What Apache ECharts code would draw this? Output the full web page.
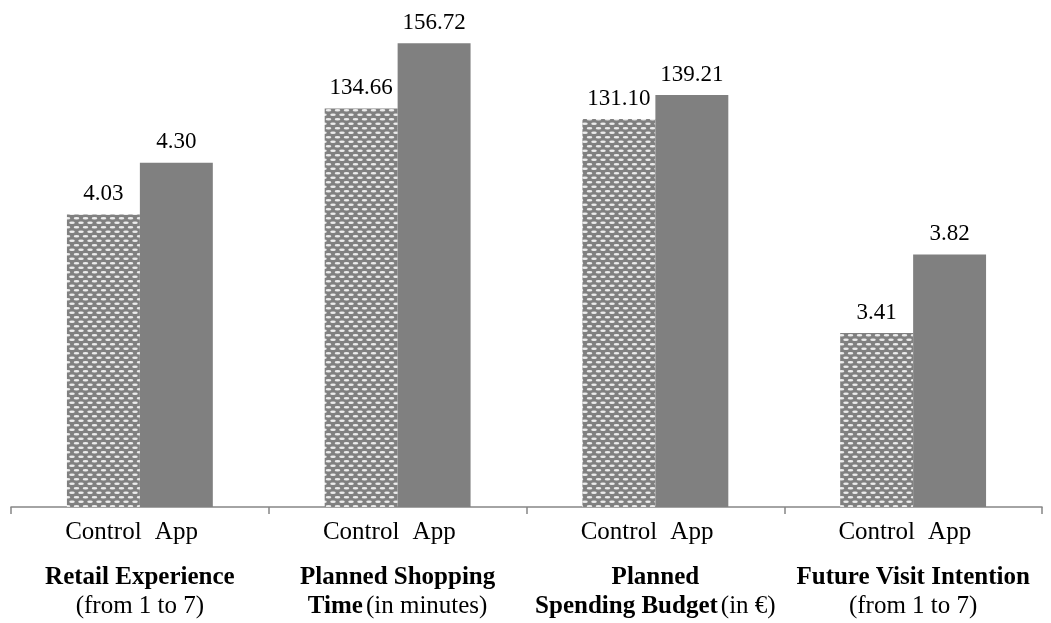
<!DOCTYPE html>
<html>
<head>
<meta charset="utf-8">
<script src="https://cdn.jsdelivr.net/npm/echarts@6/dist/echarts.min.js"></script>
<style>
  html, body { margin: 0; padding: 0; background: #fff; }
  #main { width: 1051px; height: 623px; }
</style>
</head>
<body>
<div id="main"></div>
<script>
// data
var categories = ['Retail Experience', 'Planned Shopping Time', 'Planned Spending Budget', 'Future Visit Intention'];
var controlValues = [4.03, 134.66, 131.10, 3.41];
var appValues = [4.30, 156.72, 139.21, 3.82];
// 1-7 scale items sit on the second (hidden) value axis
var onScaleAxis = [true, false, false, true];

// two-line captions under each group: bold part + plain part per line
var captionLines = {
  'Retail Experience': ['{t|Retail Experience}', '{s|(from 1 to 7)}'],
  'Planned Shopping Time': ['{t|Planned Shopping}', '{t|Time} {s|(in minutes)}'],
  'Planned Spending Budget': ['{t|Planned}', '{t|Spending Budget} {s|(in €)}'],
  'Future Visit Intention': ['{t|Future Visit Intention}', '{s|(from 1 to 7)}']
};

// dotted fill for the Control bars
var tile = document.createElement('canvas');
tile.width = 9;
tile.height = 9;
var tc = tile.getContext('2d');
tc.fillStyle = '#808080';
tc.fillRect(0, 0, 9, 9);
tc.fillStyle = '#ececec';
function oval(x, y) {
  tc.beginPath();
  tc.ellipse(x, y, 2.8, 1.3, 0, 0, Math.PI * 2);
  tc.fill();
}
oval(4.5, 2.2);
oval(0, 6.7);
oval(9, 6.7);
var controlFill = { image: tile, repeat: 'repeat' };

function pick(values, scale) {
  return values.map(function (v, i) { return onScaleAxis[i] === scale ? v : '-'; });
}

var font = '"Liberation Serif", "Times New Roman", serif';
var valueLabel = {
  show: true,
  position: 'top',
  distance: 9,
  color: '#000',
  fontFamily: font,
  fontSize: 23,
  formatter: function (p) { return p.value.toFixed(2); }
};

var myChart = echarts.init(document.getElementById('main'));
myChart.setOption({
  animation: false,
  grid: { left: 11, right: 9, top: 29, bottom: 116, containLabel: false, outerBoundsMode: 'none' },
  xAxis: [
    {
      type: 'category',
      data: categories,
      position: 'bottom',
      axisLine: { lineStyle: { color: '#868686', width: 1.5 } },
      axisTick: { show: true, length: 7, lineStyle: { color: '#868686', width: 1.5 } },
      axisLabel: {
        interval: 0,
        margin: 8,
        fontFamily: font,
        color: '#000',
        formatter: function (name) {
          var lines = captionLines[name];
          return '{c|Control}{a|App}\n{g| }\n' + lines[0] + '\n' + lines[1];
        },
        rich: {
          c: { width: 73, align: 'center', fontSize: 25, lineHeight: 34, fontFamily: font, color: '#000' },
          a: { width: 73, align: 'center', fontSize: 25, lineHeight: 34, fontFamily: font, color: '#000' },
          g: { fontSize: 10, lineHeight: 14 },
          t: { fontSize: 25, lineHeight: 29, fontWeight: 'bold', fontFamily: font, color: '#000' },
          s: { fontSize: 25, lineHeight: 29, fontFamily: font, color: '#000' }
        }
      }
    },
    {
      type: 'category',
      data: categories,
      position: 'top',
      show: false
    }
  ],
  yAxis: [
    { type: 'value', min: 0, max: 161.5, show: false },
    { type: 'value', min: 2.5, max: 5, show: false }
  ],
  series: [
    {
      name: 'Control',
      type: 'bar',
      xAxisIndex: 0,
      yAxisIndex: 0,
      data: pick(controlValues, false),
      barGap: '0%',
      barCategoryGap: '43.4%',
      itemStyle: { color: controlFill },
      label: valueLabel
    },
    {
      name: 'App',
      type: 'bar',
      xAxisIndex: 0,
      yAxisIndex: 0,
      data: pick(appValues, false),
      barGap: '0%',
      barCategoryGap: '43.4%',
      itemStyle: { color: '#808080' },
      label: valueLabel
    },
    {
      name: 'Control',
      type: 'bar',
      xAxisIndex: 1,
      yAxisIndex: 1,
      data: pick(controlValues, true),
      barGap: '0%',
      barCategoryGap: '43.4%',
      itemStyle: { color: controlFill },
      label: valueLabel
    },
    {
      name: 'App',
      type: 'bar',
      xAxisIndex: 1,
      yAxisIndex: 1,
      data: pick(appValues, true),
      barGap: '0%',
      barCategoryGap: '43.4%',
      itemStyle: { color: '#808080' },
      label: valueLabel
    }
  ]
});
</script>
</body>
</html>
